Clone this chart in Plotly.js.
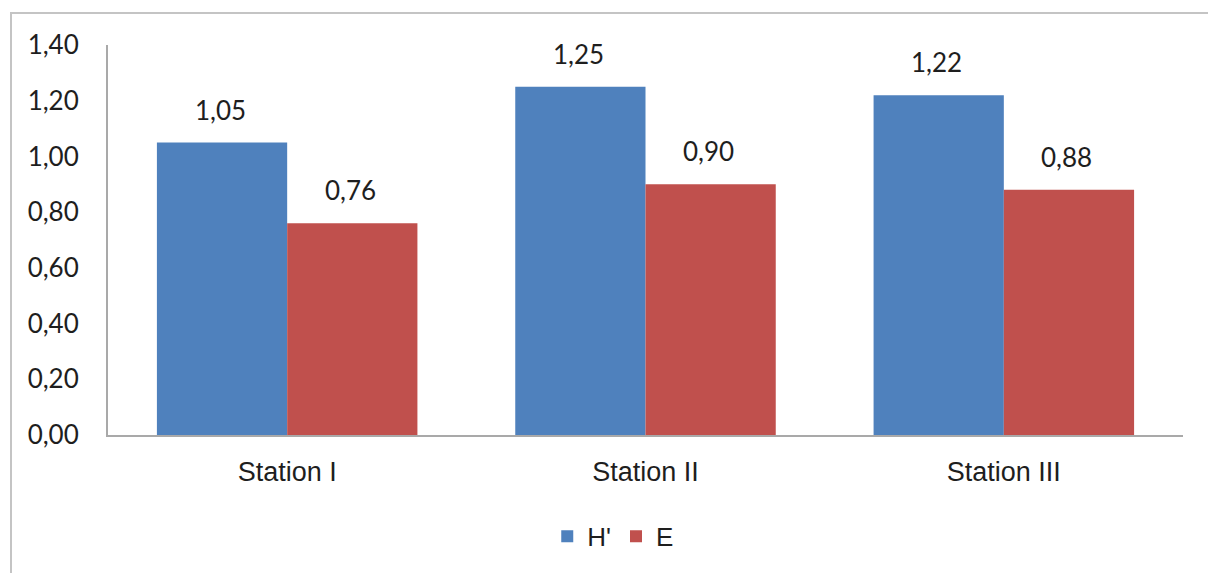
<!DOCTYPE html>
<html>
<head>
<meta charset="utf-8">
<script src="https://cdn.plot.ly/plotly-3.0.1.min.js"></script>
<style>
  html, body { margin: 0; padding: 0; background: #ffffff; overflow: hidden; }
  #frame {
    position: absolute; left: 10px; top: 12px; width: 1220px; height: 600px;
    border: 2px solid #c4c4c4; box-sizing: border-box;
  }
  #chart { position: absolute; left: 0; top: 0; width: 1208px; height: 573px; }
</style>
</head>
<body>
<div id="frame"></div>
<div id="chart"></div>
<script>
// Diversity (H') and evenness (E) per station
const stations = ['Station I', 'Station II', 'Station III'];
const diversityH = [1.05, 1.25, 1.22];
const evennessE = [0.76, 0.90, 0.88];
const seriesNames = ["H'", 'E'];
const yTicks = [0, 0.2, 0.4, 0.6, 0.8, 1.0, 1.2, 1.4];

const blue = '#4F81BD';
const red = '#C0504D';
const numFont = 'Lato, "Liberation Sans", Arial, sans-serif';
const textFont = '"Liberation Sans", Arial, sans-serif';

const fmt = v => v.toFixed(2).replace('.', ',');

const traces = [
  { type: 'bar', name: seriesNames[0], x: stations, y: diversityH,
    marker: { color: blue }, hoverinfo: 'skip' },
  { type: 'bar', name: seriesNames[1], x: stations, y: evennessE,
    marker: { color: red }, hoverinfo: 'skip' }
];

// value labels above each bar (two bars per group, each offset from the category centre)
const bargap = 0.273;
const half = (1 - bargap) / 4;
const annotations = [];
[diversityH, evennessE].forEach((vals, s) => {
  vals.forEach((v, i) => {
    annotations.push({
      x: i + (s === 0 ? -half : half), y: v, xref: 'x', yref: 'y',
      text: fmt(v), showarrow: false, yanchor: 'bottom', yshift: 15, xshift: -2,
      font: { family: numFont, size: 26, color: '#1e1e1e' }
    });
  });
});

const layout = {
  width: 1208, height: 573,
  margin: { l: 108, r: 25, t: 45, b: 138 },
  paper_bgcolor: 'rgba(0,0,0,0)', plot_bgcolor: 'rgba(0,0,0,0)',
  separators: ',.',
  barmode: 'group', bargap: bargap, bargroupgap: 0,
  showlegend: true,
  legend: {
    orientation: 'h', x: 0.47, xanchor: 'center', y: -0.26, yanchor: 'middle',
    font: { family: textFont, size: 26, color: '#1e1e1e' },
    itemwidth: 30, traceorder: 'normal'
  },
  xaxis: {
    type: 'category', showgrid: false, zeroline: false,
    showline: true, linecolor: '#a9a9a9', linewidth: 2,
    ticks: '', ticklabelstandoff: 12,
    tickfont: { family: textFont, size: 27, color: '#1e1e1e' }
  },
  yaxis: {
    range: [0, 1.4], showgrid: false, zeroline: false,
    showline: true, linecolor: '#a9a9a9', linewidth: 2,
    ticks: '', tickvals: yTicks, tickformat: '.2f', ticklabelstandoff: 22,
    tickfont: { family: numFont, size: 26, color: '#1e1e1e' }
  },
  annotations: annotations
};

Plotly.newPlot('chart', traces, layout, { staticPlot: true, displayModeBar: false });
</script>
</body>
</html>
